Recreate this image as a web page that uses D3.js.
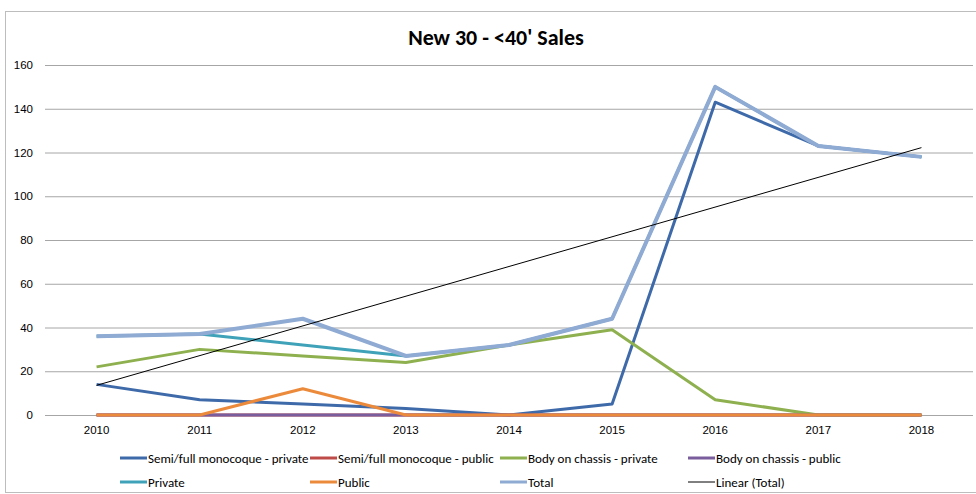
<!DOCTYPE html>
<html>
<head>
<meta charset="utf-8">
<script src="https://cdn.jsdelivr.net/npm/d3@7"></script>
<style>
  body { margin: 0; background: #fff; }
  svg { font-family: Carlito, Lato, "Open Sans", sans-serif; }
</style>
</head>
<body>
<svg id="chart" width="976" height="494"></svg>
<script>
const years = ['2010','2011','2012','2013','2014','2015','2016','2017','2018'];
const yTicks = [0, 20, 40, 60, 80, 100, 120, 140, 160];

const semiPrivate = [14, 7, 5, 3, 0, 5, 143, 123, 118];
const semiPublic = [0, 0, 0, 0, 0, 0, 0, 0, 0];
const bodyPrivate = [22, 30, 27, 24, 32, 39, 7, 0, 0];
const bodyPublic = [0, 0, 0, 0, 0, 0, 0, 0, 0];
const privateSales = [36, 37, 32, 27, 32, 44, 150, 123, 118];
const publicSales = [0, 0, 12, 0, 0, 0, 0, 0, 0];
const totalSales = [36, 37, 44, 27, 32, 44, 150, 123, 118];

const seriesNames = ['Semi/full monocoque - private', 'Semi/full monocoque - public',
  'Body on chassis - private', 'Body on chassis - public', 'Private', 'Public', 'Total', 'Linear (Total)'];
const seriesColors = ['#3e6aaa', '#be4b48', '#8eb04f', '#7a5d9c', '#3fa2b8', '#ec8a3c', '#8faad3', '#000000'];
const seriesWidths = [3, 3, 3, 3, 3, 3, 4, 1];

// linear trend of the total (least squares, like Excel)
const n = totalSales.length;
const xs = d3.range(1, n + 1);
const mx = d3.mean(xs), my = d3.mean(totalSales);
const slope = d3.sum(xs, (x, i) => (x - mx) * (totalSales[i] - my)) / d3.sum(xs, x => (x - mx) * (x - mx));
const trend = [my + slope * (1 - mx), my + slope * (n - mx)];

const svg = d3.select('#chart');

// outer chart frame
svg.append('rect')
  .attr('x', 5.5).attr('y', 11.5)
  .attr('width', 980).attr('height', 481)
  .attr('fill', 'none').attr('stroke', '#bdbdbd');

const m = { left: 45, right: 973, top: 65, bottom: 415 };

const x = d3.scaleBand().domain(years).range([m.left, m.right]);
const y = d3.scaleLinear().domain([0, 160]).range([m.bottom, m.top]);
const xc = d => x(d) + x.bandwidth() / 2;

// gridlines + y labels
const yAxis = svg.append('g')
  .attr('transform', `translate(${m.left},0)`)
  .call(d3.axisLeft(y).tickValues(yTicks).tickSize(-(m.right - m.left)).tickPadding(12));
yAxis.select('.domain').remove();
yAxis.selectAll('line').attr('stroke', '#a6a6a6').attr('stroke-width', 1);
yAxis.selectAll('text').attr('fill', '#000').style('font-size', '11.5px');

// x labels
const xAxis = svg.append('g')
  .attr('transform', `translate(0,${m.bottom})`)
  .call(d3.axisBottom(x).tickSize(0).tickPadding(11));
xAxis.select('.domain').remove();
xAxis.selectAll('text').attr('fill', '#000').style('font-size', '11.5px');

// series lines
const allSeries = [semiPrivate, semiPublic, bodyPrivate, bodyPublic, privateSales, publicSales, totalSales];
const line = d3.line().x((d, i) => xc(years[i])).y(d => y(d));
allSeries.forEach((s, k) => {
  svg.append('path')
    .datum(s)
    .attr('d', line)
    .attr('fill', 'none')
    .attr('stroke', seriesColors[k])
    .attr('stroke-width', seriesWidths[k])
    .attr('stroke-linejoin', 'round');
});

// trendline
svg.append('line')
  .attr('x1', xc(years[0])).attr('y1', y(trend[0]))
  .attr('x2', xc(years[n - 1])).attr('y2', y(trend[1]))
  .attr('stroke', '#000').attr('stroke-width', 1);

// title
svg.append('text')
  .attr('x', 496).attr('y', 45)
  .attr('text-anchor', 'middle')
  .style('font-size', '22px').style('font-weight', 'bold')
  .text("New 30 - <40' Sales");

// legend
const legendX = [120, 310, 500, 688];
const legendY = [458, 482];
seriesNames.forEach((name, k) => {
  const lx = legendX[k % 4], ly = legendY[Math.floor(k / 4)];
  const g = svg.append('g').attr('transform', `translate(${lx},${ly})`);
  g.append('line')
    .attr('x1', 0).attr('x2', 27).attr('y1', 0).attr('y2', 0)
    .attr('stroke', seriesColors[k])
    .attr('stroke-width', k === 7 ? 1 : 3);
  g.append('text')
    .attr('x', 28).attr('y', 4.5)
    .style('font-size', '13px')
    .text(name);
});
</script>
</body>
</html>
